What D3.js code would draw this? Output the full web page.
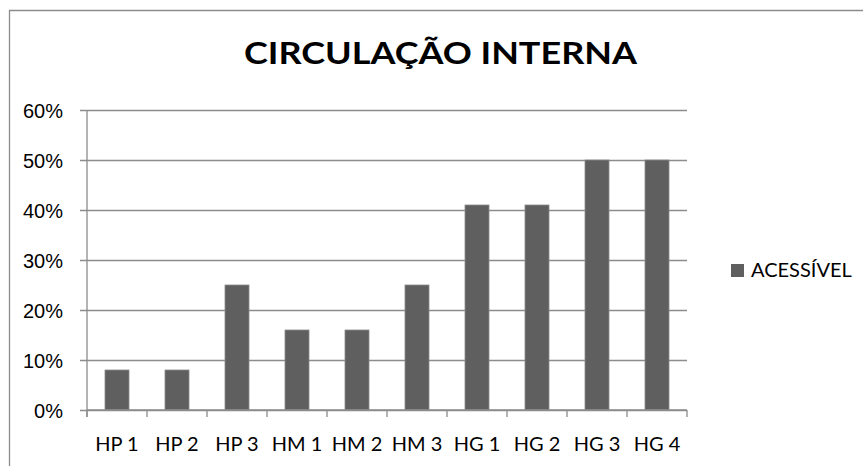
<!DOCTYPE html>
<html>
<head>
<meta charset="utf-8">
<script src="https://cdn.jsdelivr.net/npm/d3@7"></script>
<style>
  body { margin: 0; background: #fff; }
  svg { display: block; font-family: Lato, "Open Sans", sans-serif; }
</style>
</head>
<body>
<svg id="chart"></svg>
<script>
const categories = ["HP 1", "HP 2", "HP 3", "HM 1", "HM 2", "HM 3", "HG 1", "HG 2", "HG 3", "HG 4"];
const acessivel  = [0.08, 0.08, 0.25, 0.16, 0.16, 0.25, 0.41, 0.41, 0.50, 0.50];
const yTicks     = [0, 0.1, 0.2, 0.3, 0.4, 0.5, 0.6];
const seriesName = "ACESSÍVEL";
const title      = "CIRCULAÇÃO INTERNA";

let width  = 863;
let height = 466;
let margin = {top: 110, right: 176, bottom: 56, left: 87};
let svg    = d3.select("#chart").attr("width", width).attr("height", height);

// outer frame (only left + top visible in the crop)
svg.append("path")
  .attr("fill", "none")
  .attr("stroke", "#8c8c8c")
  .attr("stroke-width", 1.3)
  .attr("d", "M9.5," + height + "V10.5H" + width);

let x = d3.scaleBand().domain(categories).range([margin.left, width - margin.right]).paddingInner(0.6).paddingOuter(0.3);
let y = d3.scaleLinear().domain([0, 0.6]).range([height - margin.bottom, margin.top]);

// gridlines + y axis
svg.append("g")
  .attr("class", "y-axis")
  .attr("transform", "translate(" + margin.left + ",0)")
  .call(d3.axisLeft(y).tickValues(yTicks).tickFormat(d3.format(".0%")).tickSize(-(width - margin.right - margin.left)).tickPadding(24))
  .call(g => g.select(".domain").remove())
  .call(g => g.selectAll(".tick line").attr("stroke", "#8c8c8c").attr("stroke-width", 1.3).attr("x1", -7))
  .call(g => g.selectAll(".tick text").attr("fill", "#000").attr("font-size", 20).attr("dy", "0.36em"));

svg.append("line")
  .attr("x1", margin.left).attr("x2", margin.left)
  .attr("y1", y(0.6)).attr("y2", y(0) + 7)
  .attr("stroke", "#8c8c8c").attr("stroke-width", 1.3);

// bars
svg.append("g")
  .selectAll("rect")
  .data(acessivel)
  .join("rect")
  .attr("x", (d, i) => x(categories[i]))
  .attr("y", d => y(d))
  .attr("width", x.bandwidth())
  .attr("height", d => y(0) - y(d))
  .attr("fill", "#5f5f5f")
  .attr("stroke", "#8a8a8a")
  .attr("stroke-width", 0.8);

// x axis
let step = x.step();
svg.append("line")
  .attr("x1", margin.left).attr("x2", width - margin.right)
  .attr("y1", y(0)).attr("y2", y(0))
  .attr("stroke", "#8c8c8c").attr("stroke-width", 1.3);

svg.append("g")
  .selectAll("line")
  .data(d3.range(categories.length + 1))
  .join("line")
  .attr("x1", i => margin.left + i * step).attr("x2", i => margin.left + i * step)
  .attr("y1", y(0)).attr("y2", y(0) + 7)
  .attr("stroke", "#8c8c8c").attr("stroke-width", 1.3);

svg.append("g")
  .selectAll("text")
  .data(categories)
  .join("text")
  .attr("x", d => x(d) + x.bandwidth() / 2)
  .attr("y", 451)
  .attr("text-anchor", "middle")
  .attr("font-size", 20)
  .attr("fill", "#000")
  .text(d => d);

// title
svg.append("text")
  .attr("x", 440.5)
  .attr("y", 64)
  .attr("text-anchor", "middle")
  .attr("font-size", 30)
  .attr("font-weight", "bold")
  .attr("textLength", 393)
  .attr("lengthAdjust", "spacingAndGlyphs")
  .attr("fill", "#000")
  .text(title);

// legend
svg.append("rect")
  .attr("x", 731).attr("y", 264)
  .attr("width", 13).attr("height", 13)
  .attr("fill", "#5f5f5f");

svg.append("text")
  .attr("x", 751).attr("y", 277)
  .attr("font-size", 20)
  .attr("fill", "#000")
  .text(seriesName);
</script>
</body>
</html>
